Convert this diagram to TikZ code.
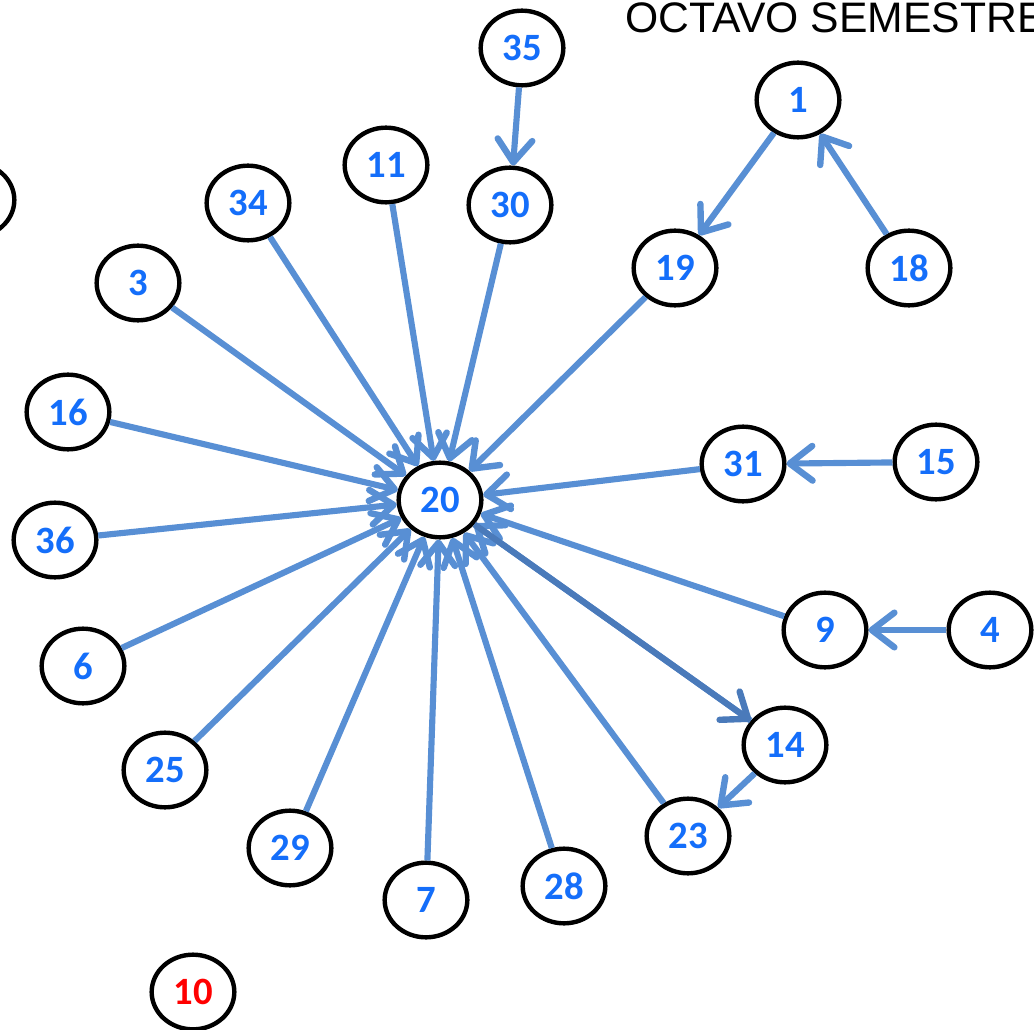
\documentclass[tikz,border=0pt]{standalone}
\usepackage{fontspec}
\setmainfont{Carlito}
\newfontfamily\titlefont{Liberation Sans}
\usetikzlibrary{arrows.meta,shapes.geometric}
\definecolor{edgeblue}{RGB}{88,143,212}
\definecolor{edgedark}{RGB}{74,122,186}
\definecolor{labelblue}{RGB}{20,110,250}
\definecolor{labelred}{RGB}{255,0,0}
\tikzset{
  vnode/.style={ellipse,draw=black,line width=3.3pt,fill=white,minimum width=62pt,minimum height=56pt,inner sep=0pt,
    font=\fontsize{29}{29}\selectfont\bfseries,text=labelblue},
  rednode/.style={vnode,text=labelred},
  conn/.style={draw=edgeblue,line width=4.6pt,-{Straight Barb[length=17pt,width=26pt,line width=4.8pt,round]}},
  conndk/.style={conn,draw=edgedark}
}
\begin{document}
\begin{tikzpicture}[x=0.75pt,y=-0.75pt]
\useasboundingbox (0,0) rectangle (1034,1030);
\node[anchor=base west,inner sep=0pt,font=\titlefont\fontsize{32}{32}\selectfont] (title) at (625,33) {OCTAVO SEMESTRE};
\coordinate (c35) at (522,48);
\coordinate (c1) at (798,100);
\coordinate (c11) at (386,165);
\coordinate (c30) at (510,205);
\coordinate (c34) at (248,203);
\coordinate (cX) at (-27,200);
\coordinate (c19) at (675,268);
\coordinate (c18) at (909,268);
\coordinate (c3) at (138,283);
\coordinate (c16) at (68,412);
\coordinate (c20) at (440,500);
\coordinate (c31) at (743,464);
\coordinate (c15) at (936,462);
\coordinate (c36) at (55,540);
\coordinate (c9) at (825,630);
\coordinate (c4) at (990,630);
\coordinate (c6) at (83,666);
\coordinate (c14) at (785,745);
\coordinate (c25) at (165,770);
\coordinate (c23) at (688,836);
\coordinate (c29) at (290,848);
\coordinate (c7) at (426,900);
\coordinate (c28) at (564,886);
\coordinate (c10) at (193,992);

\node[vnode] (n35) at (c35) {35};
\node[vnode] (n1) at (c1) {1};
\node[vnode] (n11) at (c11) {11};
\node[vnode] (n30) at (c30) {30};
\node[vnode] (n34) at (c34) {34};
\node[vnode] (nX) at (cX) {};
\node[vnode] (n19) at (c19) {19};
\node[vnode] (n18) at (c18) {18};
\node[vnode] (n3) at (c3) {3};
\node[vnode] (n16) at (c16) {16};
\node[vnode] (n20) at (c20) {20};
\node[vnode] (n31) at (c31) {31};
\node[vnode] (n15) at (c15) {15};
\node[vnode] (n36) at (c36) {36};
\node[vnode] (n9) at (c9) {9};
\node[vnode] (n4) at (c4) {4};
\node[vnode] (n6) at (c6) {6};
\node[vnode] (n14) at (c14) {14};
\node[vnode] (n25) at (c25) {25};
\node[vnode] (n23) at (c23) {23};
\node[vnode] (n29) at (c29) {29};
\node[vnode] (n7) at (c7) {7};
\node[vnode] (n28) at (c28) {28};
\node[rednode] (n10) at (c10) {10};

\draw[conn] (n35) -- (n30);
\draw[conn] (n1) -- (n19);
\draw[conn] (n18) -- (n1);
\draw[conn] (n15) -- (n31);
\draw[conn] (n4) -- (n9);
\draw[conn] (n14) -- (n23);
\foreach \s in {34,11,30,3,19,16,36,31,9,6,25,29,7,28,23,14}{
  \draw[conn] (n\s) -- (n20);
}
\draw[conndk] (n20) -- (n14);
\end{tikzpicture}
\end{document}
